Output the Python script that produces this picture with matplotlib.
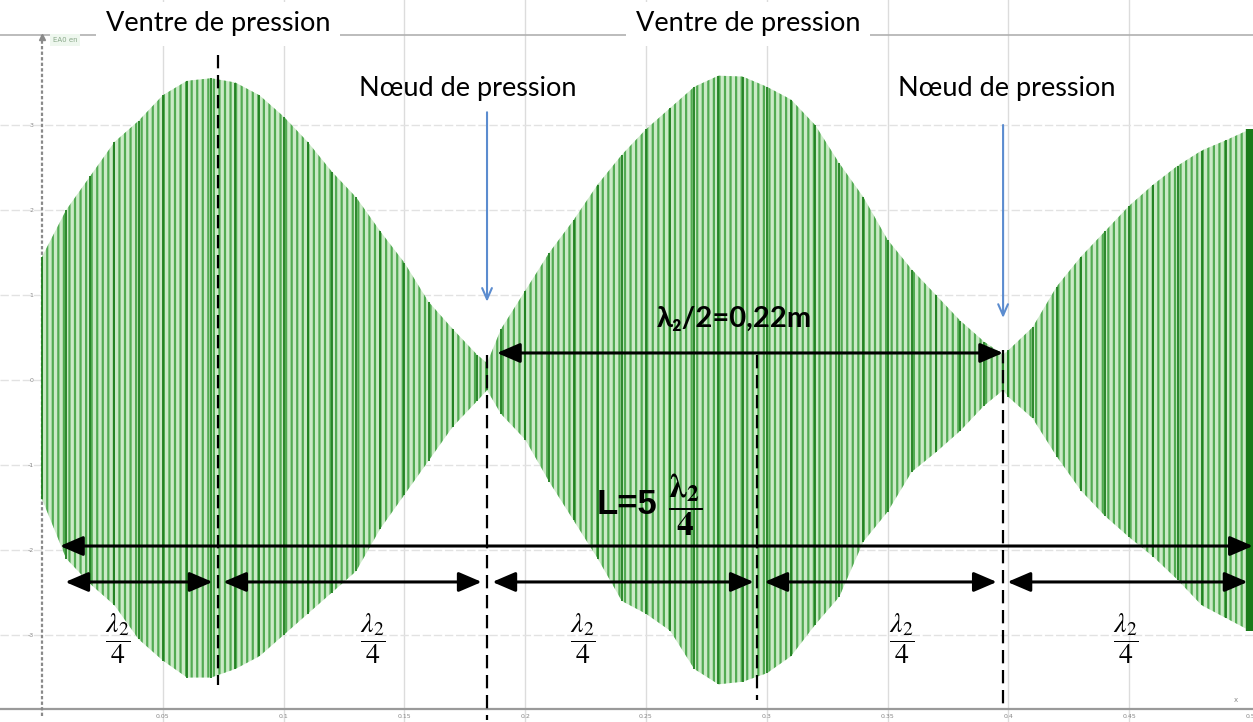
import matplotlib.pyplot as plt
import numpy as np

plt.rcParams['mathtext.fontset'] = 'stix'
plt.rcParams['hatch.linewidth'] = 1.6

# abscisse (m) et enveloppe du signal EA0
pos = [0.00, 0.01, 0.02, 0.03, 0.04, 0.05, 0.06, 0.07, 0.08, 0.09,
       0.10, 0.11, 0.12, 0.13, 0.14, 0.15, 0.16, 0.17, 0.18, 0.1842,
       0.19, 0.20, 0.21, 0.22, 0.23, 0.24, 0.25, 0.26, 0.27, 0.28,
       0.29, 0.30, 0.31, 0.32, 0.33, 0.34, 0.35, 0.36, 0.37, 0.38,
       0.39, 0.3978, 0.40, 0.41, 0.42, 0.43, 0.44, 0.45, 0.46, 0.47,
       0.48, 0.49, 0.50]
haut = [1.45, 2.0, 2.4, 2.8, 3.05, 3.35, 3.52, 3.55, 3.5, 3.35,
        3.1, 2.8, 2.45, 2.15, 1.75, 1.38, 0.92, 0.6, 0.3, 0.2,
        0.6, 1.05, 1.5, 1.88, 2.3, 2.65, 2.95, 3.2, 3.45, 3.58,
        3.57, 3.45, 3.3, 3.0, 2.55, 2.15, 1.65, 1.3, 1.0, 0.7,
        0.45, 0.3, 0.35, 0.62, 1.1, 1.45, 1.75, 2.05, 2.3, 2.52,
        2.7, 2.82, 2.95]
bas = [-1.4, -2.1, -2.4, -2.65, -3.05, -3.3, -3.5, -3.5, -3.4, -3.25,
       -3.0, -2.75, -2.5, -2.25, -1.75, -1.35, -0.95, -0.55, -0.25, -0.12,
       -0.4, -0.7, -1.2, -1.65, -2.1, -2.6, -2.75, -2.95, -3.4, -3.58,
       -3.55, -3.45, -3.25, -2.88, -2.55, -1.9, -1.55, -1.08, -0.85, -0.6,
       -0.3, -0.12, -0.2, -0.45, -0.9, -1.3, -1.6, -1.85, -2.08, -2.35,
       -2.65, -2.8, -2.95]

graduations_x = ['0.05', '0.1', '0.15', '0.2', '0.25', '0.3', '0.35', '0.4', '0.45']
graduations_y = [-3, -2, -1, 0, 1, 2, 3]

ventres = [0.0728, 0.2959]
noeuds = [0.1842, 0.3978]
quarts = [0.0728, 0.1842, 0.2968, 0.3974]

fig = plt.figure(figsize=(12.53, 7.22), dpi=100)
ax = fig.add_axes([0, 0, 1, 1])
ax.set_xlim(-0.01738, 0.50124)
ax.set_ylim(-4.0235, 4.4706)
ax.axis('off')

# grille et axes du logiciel
for k in range(1, 10):
    ax.axvline(0.05 * k, color='#dcdcdc', lw=1, zorder=0)
for v in graduations_y:
    ax.axhline(v, color='#e2e2e2', lw=1, ls=(0, (6, 2)), zorder=0)
ax.axhline(-3.87, color='#9a9a9a', lw=1.6, zorder=1)
ax.axhline(4.06, color='#b0b0b0', lw=1.2, zorder=1)
ax.plot([0, 0], [-3.95, 4.06], color='#8a8a8a', lw=1.6, ls=(0, (1.5, 1)), zorder=1)
ax.plot([0], [4.03], marker='^', color='#8a8a8a', ms=4, zorder=1)
for k, lab in enumerate(graduations_x):
    ax.text(0.05 * (k + 1), -3.96, lab, fontsize=4.5, color='#888888',
            ha='center', va='center')
ax.text(0.5, -3.96, '0.5', fontsize=4.5, color='#888888', ha='center', va='center')
for v in graduations_y:
    ax.text(-0.0035, v, str(v), fontsize=4.5, color='#888888', ha='right', va='center')
ax.text(0.494, -3.76, 'x', fontsize=5, color='#888888', ha='center', va='center')
ax.text(0.0045, 4.0, 'EA0 en', fontsize=5, color='#8aa88a', ha='left', va='center',
        bbox=dict(boxstyle='square,pad=0.4', fc='#eef7ee', ec='none'))

# signal
ax.fill_between(pos, bas, haut, facecolor='#cbeac7', edgecolor='#52ab52',
                hatch='|||', lw=0, zorder=2)
ax.vlines(pos, bas, haut, color='#1f7f1f', lw=1.3, zorder=3)
ax.vlines(pos[-1], bas[-1], haut[-1], color='#1a7a1a', lw=6, zorder=3)

# traits verticaux en pointillés
ax.plot([ventres[0]] * 2, [3.82, -3.59], color='black', lw=1.6, ls=(0, (6, 3)), zorder=5)
ax.plot([noeuds[0]] * 2, [0.29, -4.0], color='black', lw=1.6, ls=(0, (6, 3)), zorder=5)
ax.plot([ventres[1]] * 2, [0.29, -3.76], color='black', lw=1.6, ls=(0, (6, 3)), zorder=5)
ax.plot([noeuds[1]] * 2, [0.35, -3.82], color='black', lw=1.6, ls=(0, (6, 3)), zorder=5)

# flèches bleues vers les noeuds
for xn, y0, y1 in [(noeuds[0], 3.15, 0.92), (noeuds[1], 3.0, 0.73)]:
    ax.annotate('', xy=(xn, y1), xytext=(xn, y0),
                arrowprops=dict(arrowstyle='->,head_length=0.8,head_width=0.35',
                                color='#5b8ccf', lw=1.5, shrinkA=0, shrinkB=0), zorder=6)

def double_fleche(x0, x1, y):
    ax.annotate('', xy=(x1, y), xytext=(x0, y),
                arrowprops=dict(arrowstyle='<|-|>,head_length=0.7,head_width=0.3',
                                color='black', lw=2.2, shrinkA=0, shrinkB=0,
                                mutation_scale=20), zorder=7)

double_fleche(0.1883, 0.3978, 0.318)
double_fleche(0.00745, 0.5012, -1.953)
bornes = [0.00745] + quarts + [0.5012]
for a, b in zip(bornes[:-1], bornes[1:]):
    double_fleche(a + 0.0022, b - 0.0022, -2.376)

# textes
fam = ['Lato', 'DejaVu Sans']
for xv in [0.0728, 0.2922]:
    ax.text(xv, 4.19, 'Ventre de pression', fontsize=19.5, family=fam,
            ha='center', va='center', zorder=8,
            bbox=dict(boxstyle='square,pad=0.35', fc='white', ec='none'))
for xv in [0.1763, 0.3995]:
    ax.text(xv, 3.43, 'Nœud de pression', fontsize=19.5, family=fam,
            ha='center', va='center', zorder=8)
ax.text(0.2866, 0.72, 'λ₂/2=0,22m', fontsize=21, family=fam, weight='bold',
        ha='center', va='center', zorder=8)
ax.text(0.2421, -1.47, 'L=5', fontsize=25, family=['Liberation Sans'], weight='bold',
        ha='center', va='center', zorder=8)
ax.text(0.2660, -1.47, r'$\mathbf{\dfrac{\lambda_2}{4}}$', fontsize=24,
        ha='center', va='center', zorder=8)
for xf in [0.0315, 0.1370, 0.2240, 0.3560, 0.4485]:
    ax.text(xf, -3.05, r'$\dfrac{\lambda_2}{4}$', fontsize=20,
            ha='center', va='center', zorder=8)

fig.savefig('out.png', dpi=100)
